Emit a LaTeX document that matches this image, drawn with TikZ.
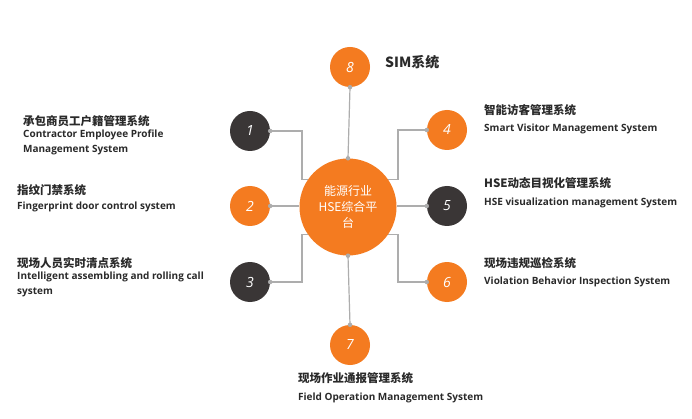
\documentclass[tikz,border=0pt]{standalone}
\usepackage{fontspec}
\setmainfont{Open Sans}
\newfontfamily\cjk{Noto Sans CJK SC}
\definecolor{orng}{HTML}{F47B20}
\definecolor{drk}{HTML}{3A3636}
\definecolor{lin}{HTML}{ADADAD}
\definecolor{txt}{HTML}{2A2A2A}
\begin{document}
\begin{tikzpicture}[x=1pt,y=-1pt,
  bub/.style={circle,minimum size=40pt,inner sep=0pt,text=white,font=\fontsize{14}{14}\selectfont\itshape},
  ob/.style={bub,fill=orng},
  db/.style={bub,fill=drk},
  conn/.style={draw=lin,line width=1.2pt},
  dot/.style={circle,fill=lin,inner sep=0pt,minimum size=4.5pt},
  zh/.style={anchor=west,inner sep=0pt,text=txt,font=\cjk\bfseries\fontsize{11.5}{11.5}\selectfont},
  en/.style={anchor=base west,inner sep=0pt,text=txt,align=left,font=\bfseries\fontsize{10}{15}\selectfont}]
\useasboundingbox[fill=white] (0,0) rectangle (692,419);
% hub
\node[circle,fill=orng,minimum size=97pt,inner sep=0pt,text=white,align=center,
  font=\cjk\fontsize{12}{16}\selectfont] (hub) at (348,207) {能源行业\\HSE综合平\\台};
% bubbles
\node[db] (c1) at (250,131) {1};
\node[ob] (c2) at (250,206) {2};
\node[db] (c3) at (250,282) {3};
\node[ob] (c4) at (447,130) {4};
\node[db] (c5) at (447,206) {5};
\node[ob] (c6) at (447,282) {6};
\node[ob] (c7) at (350,345) {7};
\node[ob] (c8) at (350,67) {8};
% connectors
\coordinate (k1) at (302,131);
\coordinate (k3) at (302,282);
\coordinate (k4) at (398,130);
\coordinate (k6) at (398,282);
\draw[conn] (c1.east) -- (k1) |- (hub.146);
\draw[conn] (c2.east) -- (c2.east -| hub.west);
\draw[conn] (c3.east) -- (k3) |- (hub.214);
\draw[conn] (c4.west) -- (k4) |- (hub.34);
\draw[conn] (c5.west) -- (c5.west -| hub.east);
\draw[conn] (c6.west) -- (k6) |- (hub.-34);
\draw[conn] (c8.south) -- (hub.north);
\draw[conn] (hub.south) -- (c7.north);
\foreach \p in {c1.east,c2.east,c3.east,c4.west,c5.west,c6.west,c8.south,c7.north,hub.north,hub.south}
  \node[dot] at (\p) {};
% labels
\node[zh] (t1) at (23,121) {承包商员工户籍管理系统};
\node[en] (e1) at (23,152.5) {Contractor Employee Profile\\Management System};
\node[zh] (t2) at (17,190) {指纹门禁系统};
\node[en] (e2) at (17,209.5) {Fingerprint door control system};
\node[zh] (t3) at (17,263) {现场人员实时清点系统};
\node[en] (e3) at (17,294.5) {Intelligent assembling and rolling call\\system};
\node[zh] (t4) at (484,110) {智能访客管理系统};
\node[en] (e4) at (484,131.5) {Smart Visitor Management System};
\node[zh] (t5) at (484,183) {HSE动态目视化管理系统};
\node[en] (e5) at (484,205.5) {HSE visualization management System};
\node[zh] (t6) at (484,263) {现场违规巡检系统};
\node[en] (e6) at (484,284.5) {Violation Behavior Inspection System};
\node[zh] (t7) at (298,378) {现场作业通报管理系统};
\node[en] (e7) at (298,400.5) {Field Operation Management System};
\node[zh,font=\cjk\bfseries\fontsize{14}{14}\selectfont] (t8) at (385,62) {SIM系统};
\end{tikzpicture}
\end{document}
